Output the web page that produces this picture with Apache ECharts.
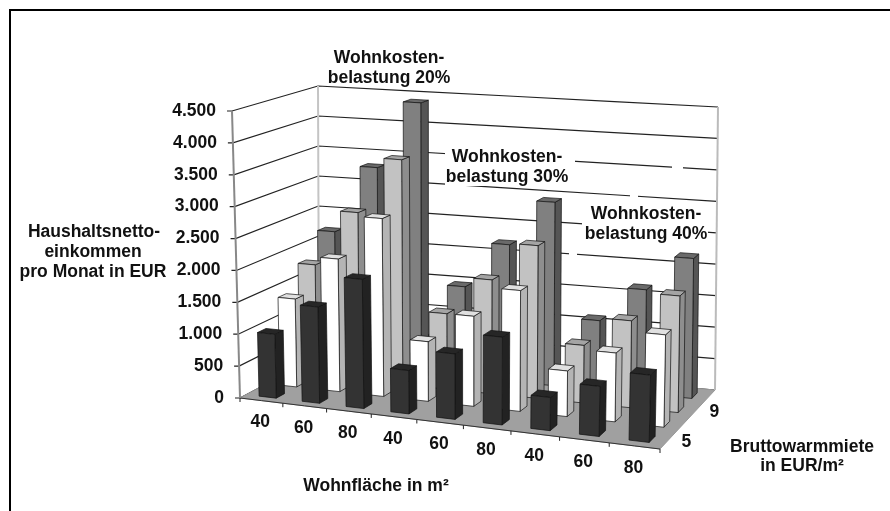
<!DOCTYPE html>
<html><head><meta charset="utf-8">
<style>html,body{margin:0;padding:0;background:#fff}#c{width:890px;height:511px}</style>
<script src="https://cdn.jsdelivr.net/npm/echarts@6/dist/echarts.min.js"></script>
</head><body><div id="c"></div>
<script>
const areaLabels = ['40','60','80','40','60','80','40','60','80'];
const valueTicks = [0,500,1000,1500,2000,2500,3000,3500,4000,4500];
const tickLabels = ['0','500','1.000','1.500','2.000','2.500','3.000','3.500','4.000','4.500'];
const rentLabels = ['5','9'];
const rent5  = [1000,1500,2000,667,1000,1333,500,750,1000];
const rent7  = [1400,2100,2800,933,1400,1867,700,1050,1400];
const rent9  = [1800,2700,3600,1200,1800,2400,900,1350,1800];
const rent11 = [2200,3300,4400,1467,2200,2933,1100,1650,2200];

const FONT = '"Liberation Sans", Arial, sans-serif';
const warp=(s,r)=>s/(r-(r-1)*s);
const mix=(a,b,t)=>[a[0]+(b[0]-a[0])*t,a[1]+(b[1]-a[1])*t];
function planeMap(fl,fr,br,bl){
  return (u,v)=>mix(mix(fl,fr,warp(u,1.1)),mix(bl,br,warp(u,1.05)),warp(v,0.93));
}
const floorAt = planeMap([240,398],[660,449],[715,390],[319,356]);
const topAt   = planeMap([232,111],[667,144],[718,107],[318,86]);
function project(u,v,t){return mix(floorAt(u,v),topAt(u,v),t);}
function norm(api,params,cat,val){
  const cs=params.coordSys,p=api.coord([cat,val]);
  return [(p[0]-cs.x)/cs.width,(cs.y+cs.height-p[1])/cs.height];
}
const BAR_U=0.4/9, BAR_V=0.4*0.25;
function barSeries(values,row,front,side,top){
  return {type:'custom',coordinateSystem:'cartesian2d',data:values.map((v,i)=>[i,v]),clip:false,silent:true,
    renderItem(params,api){
      const [u,t]=norm(api,params,api.value(0),api.value(1));
      const v=(row+0.5)/4,u0=u-BAR_U/2,u1=u+BAR_U/2,v0=v-BAR_V/2,v1=v+BAR_V/2;
      const P=project;
      const line={stroke:'#111',lineWidth:0.7};
      return {type:'group',children:[
        {type:'polygon',shape:{points:[P(u1,v0,0),P(u1,v1,0),P(u1,v1,t),P(u1,v0,t)]},style:{fill:side,...line}},
        {type:'polygon',shape:{points:[P(u0,v0,t),P(u1,v0,t),P(u1,v1,t),P(u0,v1,t)]},style:{fill:top,...line}},
        {type:'polygon',shape:{points:[P(u0,v0,0),P(u1,v0,0),P(u1,v0,t),P(u0,v0,t)]},style:{fill:front,...line}}
      ]};
    }};
}
const wallSeries={type:'custom',coordinateSystem:'cartesian2d',clip:false,silent:true,z:1,
  data:valueTicks.map((v,i)=>[0,v,i]),
  renderItem(params,api){
    const [,t]=norm(api,params,0,api.value(1));
    const edge=[0,0.25,0.5,0.75,1].map(s=>project(s,1,t));
    const a=project(0,0,t);
    const s={stroke:'#222',lineWidth:1.2};
    return {type:'group',children:[
      {type:'polyline',shape:{points:[[a[0]-5,a[1]],a,...edge]},style:{fill:'none',...s}},
      {type:'text',style:{text:tickLabels[api.value(2)],x:a[0]-16,y:a[1],align:'right',verticalAlign:'middle',font:'bold 17.5px '+FONT,fill:'#111'}}
    ]};
  }};
const floorSeries={type:'custom',coordinateSystem:'cartesian2d',clip:false,silent:true,z:1,
  data:[[0,0]],
  renderItem(){
    const g=(a,b)=>({type:'line',shape:{x1:a[0],y1:a[1],x2:b[0],y2:b[1]}});
    const v=(x,y,col,w)=>({...g(project(x,y,0),project(x,y,1)),style:{stroke:col,lineWidth:w}});
    const edge=[];
    for(let i=0;i<=18;i++)edge.push(i/18);
    return {type:'group',children:[
      {type:'polygon',shape:{points:[...edge.map(s=>project(s,0,0)),...edge.map(s=>project(1-s,1,0))]},style:{fill:'#a0a0a0',stroke:'#999'}},
      {type:'polyline',shape:{points:edge.map(s=>project(s,0,0))},style:{fill:'none',stroke:'#333',lineWidth:1}},
      v(0,0,'#888',2),v(0,1,'#c4c4c4',2),v(1,1,'#bbb',2)
    ]};
  }};
const xLabelSeries={type:'custom',coordinateSystem:'cartesian2d',clip:false,silent:true,z:2,
  data:areaLabels.map((l,i)=>[i,0]),
  renderItem(params,api){
    const i=api.value(0);
    const [u]=norm(api,params,i,0);
    const du=0.5/9, L=project(u-du,0,0),p=project(u,0,0);
    const children=[
      {type:'line',shape:{x1:L[0],y1:L[1],x2:L[0],y2:L[1]+4},style:{stroke:'#222',lineWidth:1}},
      {type:'text',style:{text:areaLabels[i],x:p[0]-1,y:p[1]+22,align:'center',verticalAlign:'middle',font:'bold 17.5px '+FONT,fill:'#111'}}
    ];
    if(i===8){const R=project(1,0,0);children.push({type:'line',shape:{x1:R[0],y1:R[1],x2:R[0],y2:R[1]+4},style:{stroke:'#222',lineWidth:1}});}
    return {type:'group',children};
  }};
const depthSeries={type:'custom',coordinateSystem:'cartesian2d',clip:false,silent:true,z:2,
  data:rentLabels.map((l,i)=>[0,0,i]),
  renderItem(params,api){
    const i=api.value(2);
    const p=project(1,(i*2+0.5)/4,0);
    return {type:'text',style:{text:rentLabels[i],x:p[0]+19,y:p[1]+1,align:'center',verticalAlign:'middle',font:'bold 17.5px '+FONT,fill:'#111'}};
  }};
const txt=(text,x,y)=>({type:'text',z:20,style:{text,x,y,align:'center',verticalAlign:'middle',font:'bold 17.5px '+FONT,fill:'#111'}});
const box=(x,y,w,h)=>({type:'rect',z:15,shape:{x,y,width:w,height:h},style:{fill:'#fff'}});
const chart=echarts.init(document.getElementById('c'),null,{renderer:'canvas'});
chart.setOption({
  animation:false,backgroundColor:'#fff',
  grid:{left:240,right:230,top:111,height:287},
  xAxis:{type:'category',data:areaLabels,show:false},
  yAxis:{type:'value',min:0,max:4500,interval:500,show:false},
  graphic:[
    {type:'polyline',z:0,shape:{points:[[10,511],[10,10],[890,10]]},style:{fill:'none',stroke:'#000',lineWidth:2}},
    box(445,147,130,39),box(582,205,126,40),box(672,165,11,10),box(630,193,8,8),box(569,250,8,10),
    txt('Wohnkosten-',389,58),txt('belastung 20%',389,78),
    txt('Wohnkosten-',507,157),txt('belastung 30%',507,177),
    txt('Wohnkosten-',646,214),txt('belastung 40%',646,234),
    txt('Haushaltsnetto-',94,232),txt('einkommen',93,252),txt('pro Monat in EUR',93,272),
    txt('Wohnfläche in m²',376,486),
    txt('Bruttowarmmiete',802,447),txt('in EUR/m²',802,466)
  ],
  series:[wallSeries,floorSeries,xLabelSeries,depthSeries,
    barSeries(rent11,3,'#808080','#555555','#6a6a6a'),
    barSeries(rent9,2,'#c2c2c2','#8e8e8e','#a4a4a4'),
    barSeries(rent7,1,'#ffffff','#b4b4b4','#e0e0e0'),
    barSeries(rent5,0,'#333333','#222222','#262626')]
});
</script></body></html>
